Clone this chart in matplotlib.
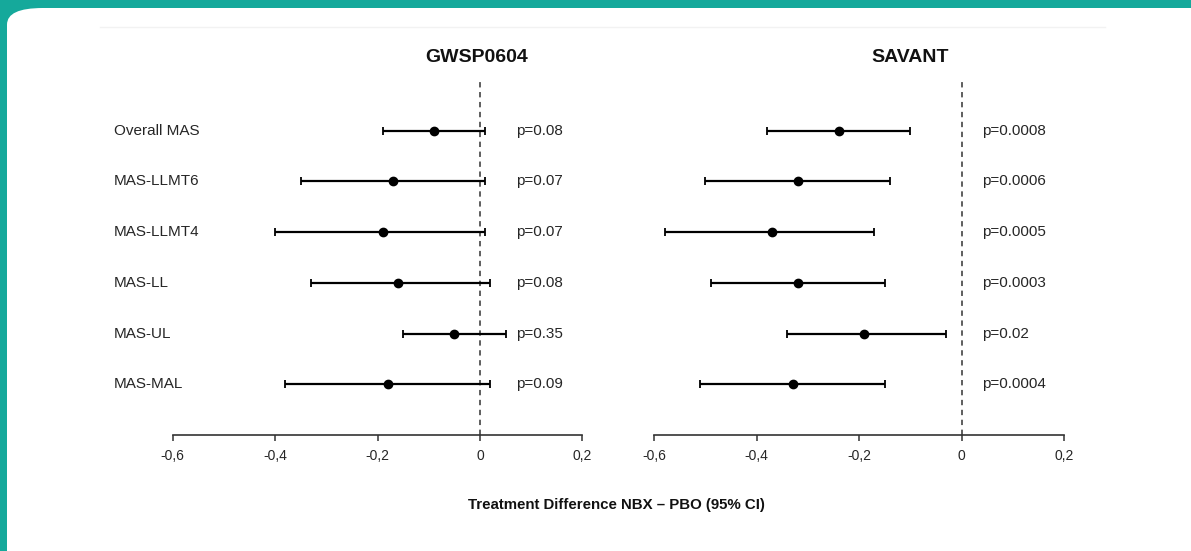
import matplotlib.pyplot as plt
from matplotlib.patches import FancyBboxPatch
from matplotlib.lines import Line2D
from matplotlib.transforms import blended_transform_factory

plt.rcParams['font.family'] = ['Liberation Sans', 'DejaVu Sans']

# data
outcomes = ['Overall MAS', 'MAS-LLMT6', 'MAS-LLMT4', 'MAS-LL', 'MAS-UL', 'MAS-MAL']

gw_est = [-0.09, -0.17, -0.19, -0.16, -0.05, -0.18]
gw_lo = [-0.19, -0.35, -0.40, -0.33, -0.15, -0.38]
gw_hi = [0.01, 0.01, 0.01, 0.02, 0.05, 0.02]
gw_p = ['p=0.08', 'p=0.07', 'p=0.07', 'p=0.08', 'p=0.35', 'p=0.09']

sv_est = [-0.24, -0.32, -0.37, -0.32, -0.19, -0.33]
sv_lo = [-0.38, -0.50, -0.58, -0.49, -0.34, -0.51]
sv_hi = [-0.10, -0.14, -0.17, -0.15, -0.03, -0.15]
sv_p = ['p=0.0008', 'p=0.0006', 'p=0.0005', 'p=0.0003', 'p=0.02', 'p=0.0004']

xticks = [-0.6, -0.4, -0.2, 0, 0.2]
xticklabels = ['-0,6', '-0,4', '-0,2', '0', '0,2']

W, H = 1191, 551
fig = plt.figure(figsize=(W / 100, H / 100), dpi=100)
fig.patch.set_facecolor('#15a99b')

# white rounded card
card = FancyBboxPatch((7 / W, -0.1), 1.2, 1.1 - 8 / H,
                      boxstyle='round,pad=0,rounding_size=0.03',
                      transform=fig.transFigure, facecolor='white',
                      edgecolor='none', zorder=0)
fig.add_artist(card)
fig.add_artist(Line2D([100 / W, 1105 / W], [1 - 27 / H, 1 - 27 / H],
                      color='#f2f2f2', lw=1, transform=fig.transFigure))

txt = '#262626'
rows = list(range(1, len(outcomes) + 1))


def panel(left_px, est, lo, hi, pvals, p_x):
    ax = fig.add_axes([left_px / W, (H - 435) / H, 409.6 / W, 355 / H])
    ax.set_facecolor('none')
    ax.errorbar(est, rows, xerr=[[e - l for e, l in zip(est, lo)],
                                 [h - e for e, h in zip(est, hi)]],
                fmt='o', color='black', ms=6, lw=1.6, capsize=3,
                capthick=1.3, zorder=3)
    ax.axvline(0, color='#333333', lw=1.1, ls=(0, (3.5, 3)), zorder=1)
    ax.set_xlim(-0.6, 0.2)
    ax.set_ylim(7, 0)
    for s in ['top', 'right', 'left']:
        ax.spines[s].set_visible(False)
    ax.spines['bottom'].set_bounds(-0.6, 0.2)
    ax.spines['bottom'].set_color('#333333')
    ax.spines['bottom'].set_linewidth(1.2)
    ax.set_yticks([])
    ax.set_xticks(xticks)
    ax.set_xticklabels(xticklabels, fontsize=10, color=txt)
    ax.tick_params(axis='x', length=4, width=1.1, color='#333333', pad=6)
    tr = blended_transform_factory(fig.transFigure, ax.transData)
    for r, p in zip(rows, pvals):
        ax.text(p_x / W, r, p, transform=tr, fontsize=11, color=txt,
                ha='left', va='center')
    return ax, tr


ax1, tr1 = panel(172.7, gw_est, gw_lo, gw_hi, gw_p, 516)
ax2, tr2 = panel(654.3, sv_est, sv_lo, sv_hi, sv_p, 982)

for r, name in zip(rows, outcomes):
    ax1.text(114 / W, r, name, transform=tr1, fontsize=11, color=txt,
             ha='left', va='center')

fig.text(477 / W, 1 - 57 / H, 'GWSP0604', fontsize=14, fontweight='bold',
         ha='center', va='center', color='#111111')
fig.text(910 / W, 1 - 57 / H, 'SAVANT', fontsize=14, fontweight='bold',
         ha='center', va='center', color='#111111')
fig.text(616 / W, 1 - 505 / H, 'Treatment Difference NBX – PBO (95% CI)',
         fontsize=10.8, fontweight='bold', ha='center', va='center',
         color='#111111')

plt.savefig('out.png', dpi=100, facecolor=fig.get_facecolor())
